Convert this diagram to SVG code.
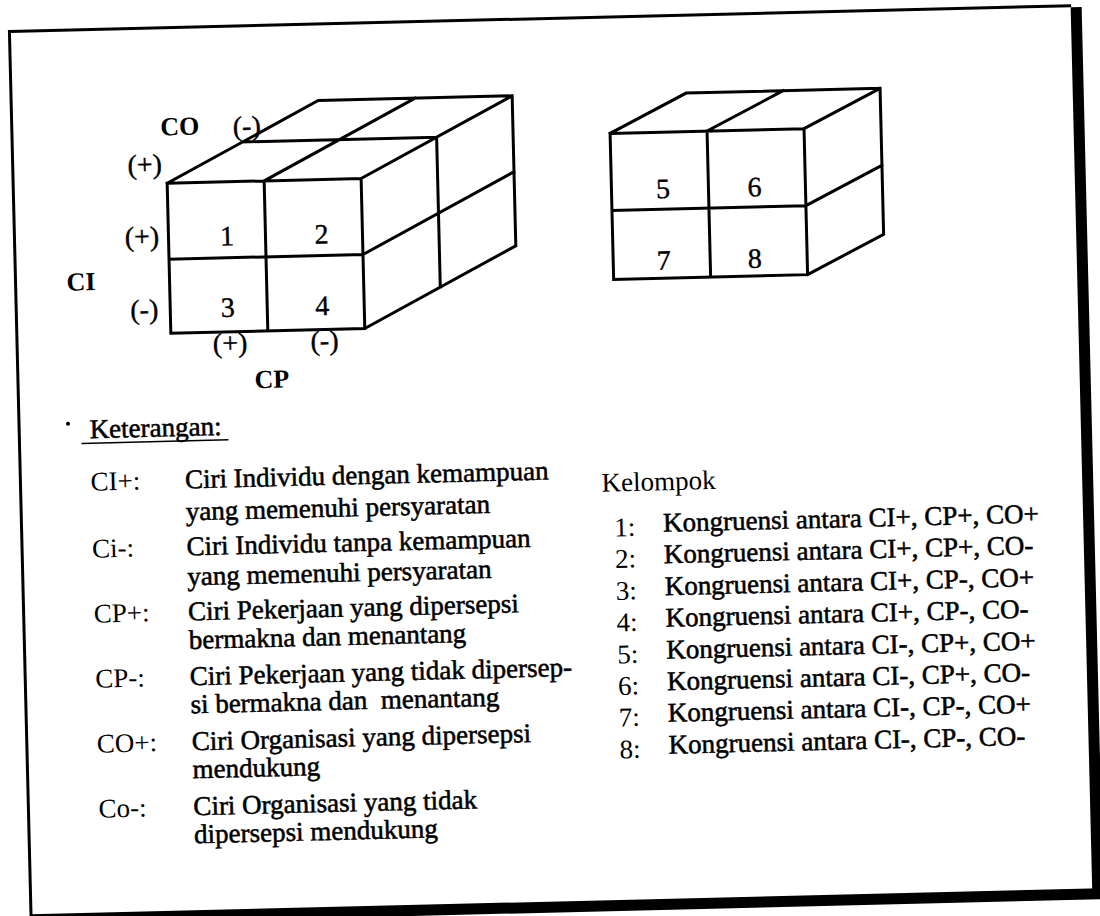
<svg xmlns="http://www.w3.org/2000/svg" width="1100" height="916" viewBox="0 0 1100 916">
<style>
.bg{fill:#fff}
.edge{fill:none;stroke:#000;stroke-width:3;stroke-linejoin:miter;stroke-linecap:square}
.t{font-family:"Liberation Serif","Times New Roman",serif;font-size:27px;fill:#000;white-space:pre}
.lbl{font-family:"Liberation Serif","Times New Roman",serif;font-size:28px;fill:#000;text-anchor:middle;stroke:#000;stroke-width:0.4}
.ax{font-family:"Liberation Serif","Times New Roman",serif;font-size:26px;font-weight:bold;fill:#000}
.d{stroke:#000;stroke-width:0.55}
</style>
<rect class="bg" x="0" y="0" width="1100" height="916"/>
<g transform="rotate(-1.4 550 458)">
  <g id="frame">
    <line x1="20" y1="18.5" x2="1082" y2="18.5" stroke="#000" stroke-width="3"/>
    <line x1="20" y1="17" x2="20" y2="930" stroke="#000" stroke-width="3"/>
    <line x1="1087" y1="20" x2="1087" y2="912" stroke="#000" stroke-width="11"/>
    <line x1="20" y1="907" x2="1092" y2="907" stroke="#000" stroke-width="11"/>
  </g>
  <g id="cube-left">
    <path class="edge" d="M174,174 H368 V324 H174 Z M271,174 V324 M174,250 H368 M174,174 L327,95 H521 L368,174 M271,174 L424,95 M250.5,134.5 H444.5 V284.5 M521,95 V245 L368,324 M368,250 L521,171"/>
    <text class="ax" x="168.6" y="126">CO</text>
    <text class="lbl" x="255" y="128">(-)</text>
    <text class="lbl" x="152" y="164">(+)</text>
    <text class="lbl" x="147.5" y="236">(+)</text>
    <text class="lbl" x="148" y="309">(-)</text>
    <text class="ax" x="71" y="279">CI</text>
    <text class="lbl" x="232.5" y="237.5">1</text>
    <text class="lbl" x="327" y="238">2</text>
    <text class="lbl" x="231.5" y="309">3</text>
    <text class="lbl" x="326" y="309.5">4</text>
    <text class="lbl" x="233" y="344.5">(+)</text>
    <text class="lbl" x="327.5" y="344.5">(-)</text>
    <text class="ax" x="256.5" y="381">CP</text>
  </g>
  <g id="cube-right">
    <path class="edge" d="M618,135 H812 V281 H618 Z M715,135 V281 M618,212 H812 M618,135 L695,96.5 H889 L812,135 M715,135 L792,96.5 M889,96.5 V242.5 L812,281 M812,212 L889,173.5"/>
    <text class="lbl" x="669.5" y="201">5</text>
    <text class="lbl" x="761" y="201.5">6</text>
    <text class="lbl" x="668.5" y="272.5">7</text>
    <text class="lbl" x="759.5" y="273">8</text>
  </g>
  <g id="keterangan">
    <circle cx="69" cy="412" r="2" fill="#000"/>
    <text class="t d" x="90.5" y="427">Keterangan:</text>
    <line x1="82" y1="432" x2="229" y2="432" stroke="#000" stroke-width="1.5"/>
    <text class="t" x="90" y="479.5">CI+:</text>
    <text class="t d" x="184.5" y="479.5">Ciri Individu dengan kemampuan</text>
    <text class="t d" x="184.5" y="511.5">yang memenuhi persyaratan</text>
    <text class="t" x="90" y="546.5">Ci-:</text>
    <text class="t d" x="184.5" y="546.5">Ciri Individu tanpa kemampuan</text>
    <text class="t d" x="184.5" y="576.5">yang memenuhi persyaratan</text>
    <text class="t" x="90" y="611.5">CP+:</text>
    <text class="t d" x="184.5" y="611.5">Ciri Pekerjaan yang dipersepsi</text>
    <text class="t d" x="184.5" y="640">bermakna dan menantang</text>
    <text class="t" x="90" y="676.5">CP-:</text>
    <text class="t d" x="184.5" y="676.5">Ciri Pekerjaan yang tidak dipersep-</text>
    <text class="t d" x="184.5" y="704.5">si bermakna dan  menantang</text>
    <text class="t" x="90" y="741.5">CO+:</text>
    <text class="t d" x="185" y="741.5">Ciri Organisasi yang dipersepsi</text>
    <text class="t d" x="185" y="769.5">mendukung</text>
    <text class="t" x="90" y="806.5">Co-:</text>
    <text class="t d" x="185" y="806.5">Ciri Organisasi yang tidak</text>
    <text class="t d" x="185" y="834.5">dipersepsi mendukung</text>
  </g>
  <g id="kelompok">
    <text class="t" x="601" y="493">Kelompok</text>
    <text class="t" x="612.5" y="538">1:</text>
    <text class="t d" x="661.5" y="534.5">Kongruensi antara CI+, CP+, CO+</text>
    <text class="t" x="612.5" y="569.5">2:</text>
    <text class="t d" x="661.5" y="566">Kongruensi antara CI+, CP+, CO-</text>
    <text class="t" x="612.5" y="601.5">3:</text>
    <text class="t d" x="661.5" y="598">Kongruensi antara CI+, CP-, CO+</text>
    <text class="t" x="612.5" y="633">4:</text>
    <text class="t d" x="661.5" y="629.5">Kongruensi antara CI+, CP-, CO-</text>
    <text class="t" x="612.5" y="665">5:</text>
    <text class="t d" x="661.5" y="661.5">Kongruensi antara CI-, CP+, CO+</text>
    <text class="t" x="612.5" y="696.5">6:</text>
    <text class="t d" x="661.5" y="693">Kongruensi antara CI-, CP+, CO-</text>
    <text class="t" x="612.5" y="728">7:</text>
    <text class="t d" x="661.5" y="724.5">Kongruensi antara CI-, CP-, CO+</text>
    <text class="t" x="612.5" y="760">8:</text>
    <text class="t d" x="661.5" y="756.5">Kongruensi antara CI-, CP-, CO-</text>
  </g>
</g>
</svg>
